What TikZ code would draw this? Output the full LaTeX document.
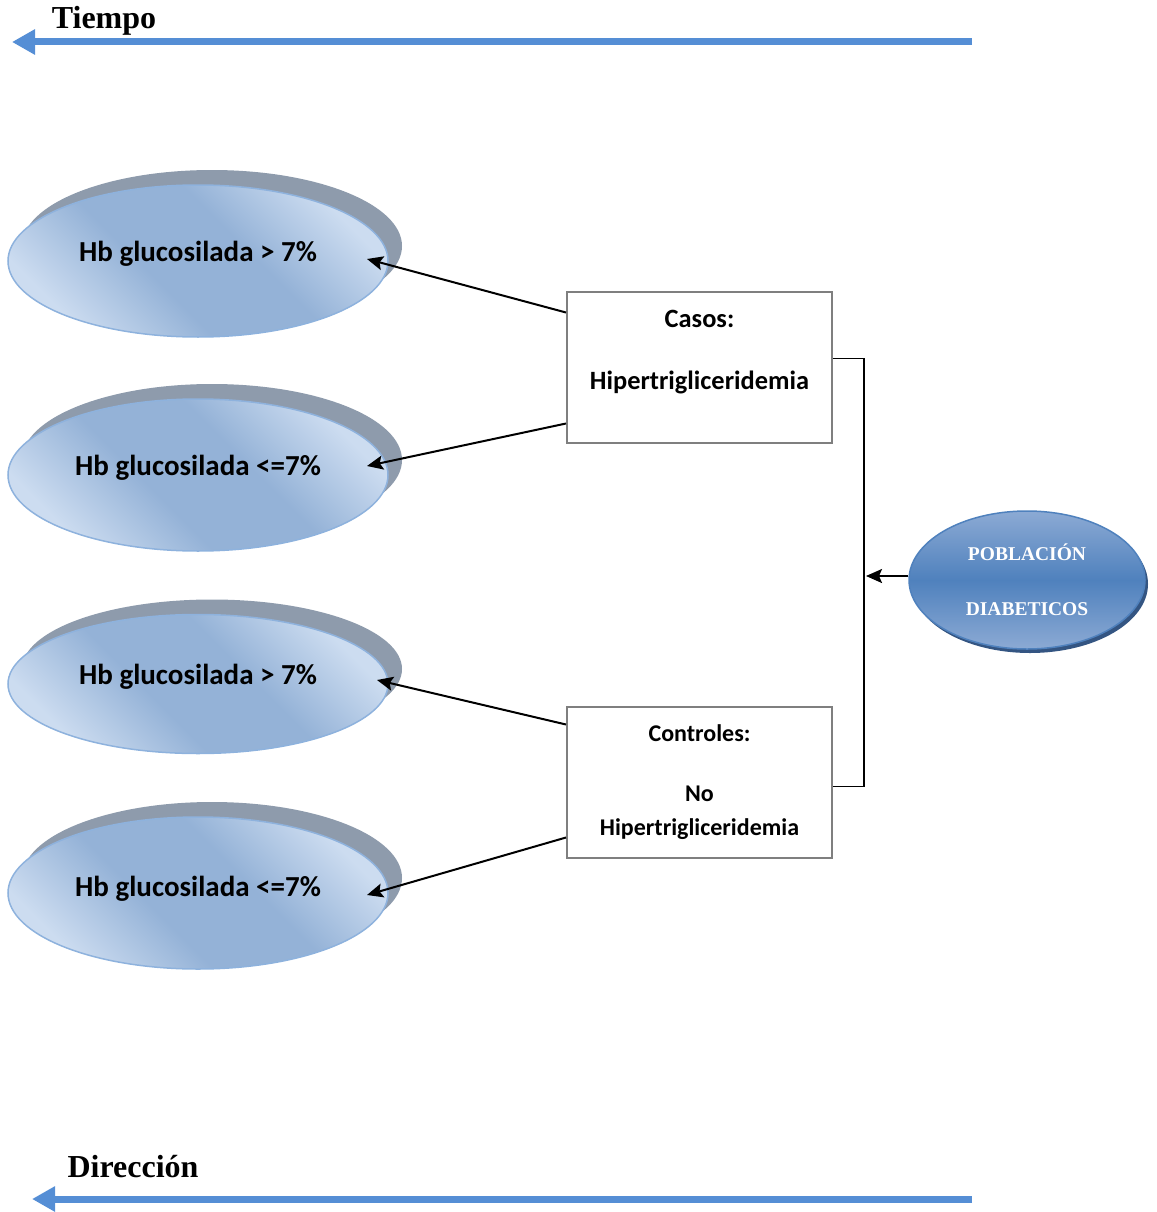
\documentclass[tikz,border=0pt]{standalone}
\usepackage{fontspec}
\setmainfont{Liberation Serif}
\newfontfamily\calibri{Carlito}
\usepackage{tikz}
\usetikzlibrary{shapes.geometric}
\usetikzlibrary{arrows.meta}
\definecolor{timeblue}{RGB}{85,142,213}
\definecolor{hblight}{RGB}{204,220,240}
\definecolor{hbmid}{RGB}{148,178,215}
\definecolor{hbedge}{RGB}{142,178,221}
\definecolor{hbgray}{RGB}{142,155,172}
\definecolor{poplight}{RGB}{140,170,212}
\definecolor{popmid}{RGB}{79,129,189}
\definecolor{popdark}{RGB}{52,85,130}
\definecolor{boxgray}{RGB}{127,127,127}
\pgfdeclarehorizontalshading{hbshade}{100bp}{color(0bp)=(hblight); color(25bp)=(hblight); color(42bp)=(hbmid); color(58bp)=(hbmid); color(75bp)=(hblight); color(100bp)=(hblight)}
\pgfdeclareverticalshading{popshade}{100bp}{color(0bp)=(poplight); color(25bp)=(poplight); color(50bp)=(popmid); color(75bp)=(poplight); color(100bp)=(poplight)}

\begin{document}
\begin{tikzpicture}[x=1pt, y=-1pt,
		hb/.style={ellipse, draw=hbedge, line width=1.5pt, shading=hbshade, shading angle=45,
			minimum width=380pt, minimum height=152pt, text height=20pt, text depth=20pt,
			font=\calibri\bfseries\fontsize{29}{35}\selectfont,
			preaction={fill=hbgray, transform canvas={xshift=14pt, yshift=15pt}}},
		pob/.style={ellipse, draw=popmid, line width=1.5pt, shading=popshade, text=white, align=center,
			minimum width=236pt, minimum height=138pt, font=\bfseries\fontsize{19.5}{24}\selectfont,
			preaction={fill=popdark, transform canvas={xshift=3pt, yshift=-4pt}}},
		caja/.style={rectangle, draw=boxgray, line width=2pt, minimum width=265pt, minimum height=151pt},
		cajatxt/.style={align=center, font=\calibri\bfseries\fontsize{26.4}{31}\selectfont},
		conn/.style={-{Stealth[length=16pt, width=14pt, inset=3pt]}, line width=2pt},
		tiempo/.style={-{Triangle[length=23pt, width=24pt]}, line width=7pt, timeblue}]
	\useasboundingbox (0,0) rectangle (1156,1212);

	\coordinate (t0) at (972,42);
	\coordinate (t1) at (12,42);
	\draw[tiempo] (t0) -- (t1);
	\node[font=\bfseries\fontsize{32}{38}\selectfont] (tiempolbl) at (104,21) {Tiempo};

	\coordinate (d0) at (972,1199);
	\coordinate (d1) at (32,1199);
	\draw[tiempo] (d0) -- (d1);
	\node[font=\bfseries\fontsize{32}{38}\selectfont] (direccionlbl) at (133,1167) {Dirección};

	\node[hb] (hbA) at (198,261) {Hb glucosilada > 7\%};
	\node[hb] (hbB) at (198,475) {Hb glucosilada <=7\%};
	\node[hb, minimum height=139pt] (hbC) at (198,684) {Hb glucosilada > 7\%};
	\node[hb, text depth=14pt] (hbD) at (198,893) {Hb glucosilada <=7\%};

	\node[caja] (casos) at (699.5,367.5) {};
	\node[cajatxt] (casostxt) at (699.5,352) {Casos:\\[31pt]Hipertrigliceridemia};
	\node[caja] (controles) at (699.5,782.5) {};
	\node[cajatxt, font=\calibri\bfseries\fontsize{24}{34}\selectfont] (controlestxt) at (699.5,782) {Controles:\\[26pt]No\\Hipertrigliceridemia};

	\node[pob] (pob) at (1027,580) {POBLACIÓN\\[31pt]DIABETICOS};

	\draw[conn] ([shift={(0,-55)}]casos.west) -- ([shift={(169,-2)}]hbA.center);
	\draw[conn] ([shift={(0,56)}]casos.west) -- ([shift={(169,-9)}]hbB.center);
	\draw[conn] ([shift={(0,-58)}]controles.west) -- ([shift={(179,-4)}]hbC.center);
	\draw[conn] ([shift={(0,55)}]controles.west) -- ([shift={(169,2)}]hbD.center);

	\draw[line width=1.5pt] ([shift={(0,-9)}]casos.east) -- ++(31,0) |- ([shift={(0,4)}]controles.east);
	\coordinate (llave) at (866,576);
	\draw[conn] (pob.west |- llave) -- (llave);
\end{tikzpicture}
\end{document}
